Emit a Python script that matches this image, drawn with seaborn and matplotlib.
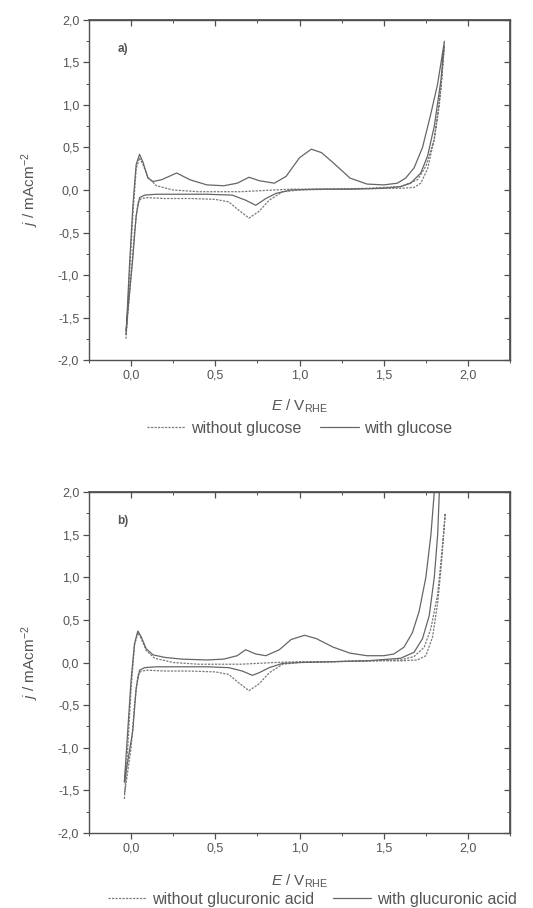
import numpy as np
import pandas as pd
import matplotlib
matplotlib.use("Agg")
import matplotlib.pyplot as plt
import seaborn as sns

# ---------------- data ----------------
# Panel a: without glucose (dashed)
a_wo_E = [-0.03, -0.01, 0.01, 0.03, 0.05, 0.07, 0.10, 0.15, 0.25, 0.40, 0.55, 0.65, 0.75, 0.85, 0.95, 1.10, 1.30, 1.50, 1.60, 1.68, 1.72, 1.76, 1.80, 1.83, 1.86,
          1.84, 1.80, 1.75, 1.70, 1.60, 1.40, 1.20, 1.00, 0.90, 0.82, 0.76, 0.70, 0.64, 0.58, 0.50, 0.35, 0.20, 0.10, 0.06, 0.04, 0.02, 0.00, -0.03]
a_wo_j = [-1.75, -1.0, -0.3, 0.25, 0.38, 0.30, 0.15, 0.05, 0.00, -0.02, -0.02, -0.02, -0.01, 0.00, 0.01, 0.01, 0.01, 0.02, 0.02, 0.03, 0.08, 0.25, 0.60, 1.00, 1.70,
          1.20, 0.60, 0.28, 0.12, 0.04, 0.02, 0.01, 0.00, -0.02, -0.12, -0.25, -0.33, -0.24, -0.14, -0.11, -0.10, -0.10, -0.09, -0.10, -0.15, -0.50, -1.0, -1.70]
# Panel a: with glucose (solid)
a_w_E = [-0.03, -0.01, 0.01, 0.03, 0.05, 0.07, 0.10, 0.13, 0.18, 0.27, 0.35, 0.45, 0.55, 0.63, 0.70, 0.76, 0.85, 0.92, 1.00, 1.07, 1.13, 1.20, 1.30, 1.40, 1.50, 1.58, 1.63, 1.68, 1.73, 1.78, 1.82, 1.86,
         1.84, 1.80, 1.76, 1.72, 1.66, 1.60, 1.50, 1.30, 1.10, 0.95, 0.86, 0.80, 0.74, 0.68, 0.60, 0.45, 0.30, 0.15, 0.08, 0.05, 0.03, 0.01, -0.03]
a_w_j = [-1.70, -0.9, -0.2, 0.30, 0.42, 0.33, 0.14, 0.10, 0.12, 0.20, 0.12, 0.06, 0.05, 0.08, 0.15, 0.11, 0.08, 0.16, 0.38, 0.48, 0.44, 0.32, 0.14, 0.07, 0.06, 0.08, 0.14, 0.26, 0.50, 0.90, 1.25, 1.75,
         1.30, 0.75, 0.40, 0.20, 0.08, 0.04, 0.02, 0.01, 0.01, 0.00, -0.04, -0.10, -0.18, -0.12, -0.06, -0.05, -0.05, -0.05, -0.06, -0.09, -0.30, -0.80, -1.65]

# Panel b: without glucuronic acid (dashed)
b_wo_E = [-0.04, -0.02, 0.00, 0.02, 0.04, 0.06, 0.09, 0.14, 0.25, 0.40, 0.55, 0.65, 0.75, 0.85, 1.00, 1.20, 1.40, 1.60, 1.70, 1.75, 1.79, 1.82, 1.84, 1.865,
          1.85, 1.82, 1.78, 1.74, 1.68, 1.60, 1.40, 1.20, 1.00, 0.90, 0.82, 0.76, 0.70, 0.64, 0.58, 0.50, 0.35, 0.20, 0.10, 0.06, 0.04, 0.02, 0.00, -0.04]
b_wo_j = [-1.60, -1.0, -0.3, 0.20, 0.35, 0.28, 0.14, 0.05, 0.00, -0.02, -0.02, -0.02, -0.01, 0.00, 0.01, 0.01, 0.02, 0.02, 0.03, 0.08, 0.30, 0.70, 1.10, 1.75,
          1.40, 0.80, 0.40, 0.18, 0.07, 0.03, 0.02, 0.01, 0.00, -0.02, -0.12, -0.25, -0.33, -0.24, -0.14, -0.11, -0.10, -0.10, -0.09, -0.10, -0.15, -0.50, -1.0, -1.55]
# Panel b: with glucuronic acid (solid)
b_w_E = [-0.04, -0.02, 0.00, 0.02, 0.04, 0.06, 0.09, 0.13, 0.20, 0.30, 0.45, 0.55, 0.63, 0.68, 0.74, 0.80, 0.88, 0.95, 1.03, 1.10, 1.20, 1.30, 1.40, 1.50, 1.56, 1.62, 1.67, 1.71, 1.75, 1.78, 1.80,
         1.83, 1.82, 1.80, 1.77, 1.73, 1.68, 1.60, 1.40, 1.20, 1.00, 0.90, 0.82, 0.76, 0.72, 0.66, 0.58, 0.45, 0.30, 0.15, 0.08, 0.05, 0.03, 0.01, -0.04]
b_w_j = [-1.40, -0.8, -0.2, 0.22, 0.37, 0.30, 0.16, 0.09, 0.06, 0.04, 0.03, 0.04, 0.08, 0.15, 0.10, 0.08, 0.15, 0.27, 0.32, 0.28, 0.18, 0.11, 0.08, 0.08, 0.10, 0.18, 0.35, 0.60, 1.00, 1.50, 2.00,
         2.00, 1.50, 1.00, 0.55, 0.28, 0.12, 0.05, 0.02, 0.01, 0.00, -0.01, -0.06, -0.12, -0.15, -0.10, -0.06, -0.05, -0.05, -0.05, -0.06, -0.09, -0.30, -0.80, -1.40]

x_ticks = [0.0, 0.5, 1.0, 1.5, 2.0]
x_tick_labels = ["0,0", "0,5", "1,0", "1,5", "2,0"]
y_ticks = [-2.0, -1.5, -1.0, -0.5, 0.0, 0.5, 1.0, 1.5, 2.0]
y_tick_labels = ["-2,0", "-1,5", "-1,0", "-0,5", "0,0", "0,5", "1,0", "1,5", "2,0"]

panels = [
    dict(tag="a)", curves=[(a_wo_E, a_wo_j, "without glucose", "--"), (a_w_E, a_w_j, "with glucose", "-")]),
    dict(tag="b)", curves=[(b_wo_E, b_wo_j, "without glucuronic acid", "--"), (b_w_E, b_w_j, "with glucuronic acid", "-")]),
]

# ---------------- plotting ----------------
sns.set_theme(style="white")
plt.rcParams["font.family"] = ["Liberation Sans", "DejaVu Sans"]
plt.rcParams["mathtext.fontset"] = "custom"
plt.rcParams["mathtext.rm"] = "Liberation Sans"
plt.rcParams["mathtext.it"] = "Liberation Sans:italic"

fig = plt.figure(figsize=(5.33, 9.08), dpi=100)
positions = [[0.167, 0.6035, 0.790, 0.3745], [0.167, 0.0826, 0.790, 0.3755]]
xlabel_y = [-0.135, -0.143]
legend_y = [-0.200, -0.194]
legend_x = [0.50, 0.53]
textc = "#555555"
spc = "#505050"

for p, pos, xly, ly, lx in zip(panels, positions, xlabel_y, legend_y, legend_x):
    ax = fig.add_axes(pos)
    for E, j, lab, ls in p["curves"]:
        df = pd.DataFrame({"E": E, "j": j})
        sns.lineplot(data=df, x="E", y="j", sort=False, estimator=None, ax=ax,
                     color="#7a7a7a" if ls == "--" else "#666666",
                     linewidth=0.9, label=lab)
        if ls == "--":
            ax.lines[-1].set_dashes([1.8, 1.0])
    ax.set_xlim(-0.25, 2.25)
    ax.set_ylim(-2.0, 2.0)
    ax.set_xticks(x_ticks)
    ax.set_xticklabels(x_tick_labels)
    ax.set_yticks(y_ticks)
    ax.set_yticklabels(y_tick_labels)
    ax.set_xticks(np.arange(-0.25, 2.26, 0.25), minor=True)
    ax.set_yticks(np.arange(-2.0, 2.01, 0.25), minor=True)
    ax.tick_params(which="major", direction="out", length=4, width=0.9, color=spc,
                   labelsize=9, labelcolor=textc, bottom=True, left=True, pad=3)
    ax.tick_params(which="minor", direction="out", length=2, width=0.7, color=spc,
                   bottom=True, left=True)
    for sp in ax.spines.values():
        sp.set_linewidth(1.0)
        sp.set_edgecolor(spc)
    # mirrored inward ticks on top and right
    sx = ax.secondary_xaxis("top")
    sx.set_xticks(x_ticks)
    sx.set_xticks(np.arange(-0.25, 2.26, 0.25), minor=True)
    sx.tick_params(which="major", direction="in", length=4, width=0.9, color=spc, labeltop=False)
    sx.tick_params(which="minor", direction="in", length=2, width=0.7, color=spc)
    sx.spines["top"].set_edgecolor(spc)
    sy = ax.secondary_yaxis("right")
    sy.set_yticks(y_ticks)
    sy.set_yticks(np.arange(-2.0, 2.01, 0.25), minor=True)
    sy.tick_params(which="major", direction="in", length=4, width=0.9, color=spc, labelright=False)
    sy.tick_params(which="minor", direction="in", length=2, width=0.7, color=spc)
    sy.spines["right"].set_edgecolor(spc)

    ax.set_xlabel(r"$E$ / V$_{\rm RHE}$", fontsize=11, color=textc)
    ax.xaxis.set_label_coords(0.5, xly)
    ax.xaxis.label.set_va("center")
    ax.set_ylabel(r"$j$ / mAcm$^{-2}$", fontsize=11, color=textc)
    ax.yaxis.set_label_coords(-0.14, 0.5)
    ax.yaxis.label.set_va("center")
    ax.text(0.067, 0.915, p["tag"], transform=ax.transAxes, fontsize=8.5, fontweight="bold",
            color=textc, va="center", ha="left")
    leg = ax.legend(loc="center", bbox_to_anchor=(lx, ly), ncol=2,
                    frameon=False, fontsize=11.5, handlelength=2.4, columnspacing=1.2,
                    handletextpad=0.35, borderaxespad=0, borderpad=0)
    for t in leg.get_texts():
        t.set_color(textc)

fig.savefig("out.png", dpi=100)
